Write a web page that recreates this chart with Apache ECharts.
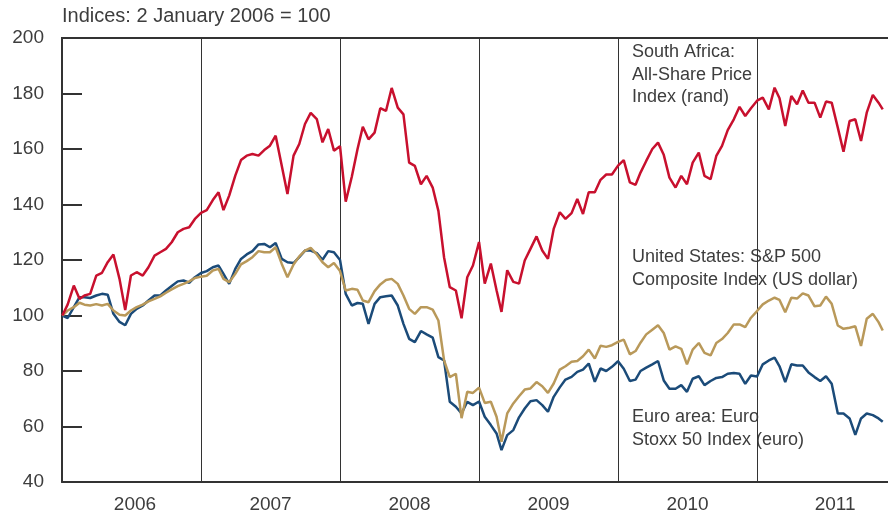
<!DOCTYPE html>
<html>
<head>
<meta charset="utf-8">
<script src="https://cdn.jsdelivr.net/npm/echarts@6/dist/echarts.min.js"></script>
<style>
  html, body { margin: 0; padding: 0; background: #fff; }
  #chart { width: 888px; height: 515px; }
</style>
</head>
<body>
<div id="chart"></div>
<script>
// sampling dates (1st and 16th of each month)
const dates = [
  '2006-01-02','2006-01-16','2006-02-01','2006-02-16','2006-03-01','2006-03-16','2006-04-01','2006-04-16','2006-05-01','2006-05-16','2006-06-01','2006-06-16',
  '2006-07-01','2006-07-16','2006-08-01','2006-08-16','2006-09-01','2006-09-16','2006-10-01','2006-10-16','2006-11-01','2006-11-16','2006-12-01','2006-12-16',
  '2007-01-01','2007-01-16','2007-02-01','2007-02-16','2007-03-01','2007-03-16','2007-04-01','2007-04-16','2007-05-01','2007-05-16','2007-06-01','2007-06-16',
  '2007-07-01','2007-07-16','2007-08-01','2007-08-16','2007-09-01','2007-09-16','2007-10-01','2007-10-16','2007-11-01','2007-11-16','2007-12-01','2007-12-16',
  '2008-01-01','2008-01-16','2008-02-01','2008-02-16','2008-03-01','2008-03-16','2008-04-01','2008-04-16','2008-05-01','2008-05-16','2008-06-01','2008-06-16',
  '2008-07-01','2008-07-16','2008-08-01','2008-08-16','2008-09-01','2008-09-16','2008-10-01','2008-10-16','2008-11-01','2008-11-16','2008-12-01','2008-12-16',
  '2009-01-01','2009-01-16','2009-02-01','2009-02-16','2009-03-01','2009-03-16','2009-04-01','2009-04-16','2009-05-01','2009-05-16','2009-06-01','2009-06-16',
  '2009-07-01','2009-07-16','2009-08-01','2009-08-16','2009-09-01','2009-09-16','2009-10-01','2009-10-16','2009-11-01','2009-11-16','2009-12-01','2009-12-16',
  '2010-01-01','2010-01-16','2010-02-01','2010-02-16','2010-03-01','2010-03-16','2010-04-01','2010-04-16','2010-05-01','2010-05-16','2010-06-01','2010-06-16',
  '2010-07-01','2010-07-16','2010-08-01','2010-08-16','2010-09-01','2010-09-16','2010-10-01','2010-10-16','2010-11-01','2010-11-16','2010-12-01','2010-12-16',
  '2011-01-01','2011-01-16','2011-02-01','2011-02-16','2011-03-01','2011-03-16','2011-04-01','2011-04-16','2011-05-01','2011-05-16','2011-06-01','2011-06-16',
  '2011-07-01','2011-07-16','2011-08-01','2011-08-16','2011-09-01','2011-09-16','2011-10-01','2011-10-16','2011-11-01','2011-11-16','2011-11-27'
];

// South Africa: All-Share Price Index (rand)
const southAfrica = [
  100, 104, 110.8, 106, 107.2, 107.8, 114.4, 115.4, 119.2, 122, 113.2, 102, 114.4, 115.6, 114.4, 117.4, 121.6, 122.8, 124, 126.4, 130, 131.2, 131.8, 134.8,
  137, 138, 141.6, 144.4, 138, 143.2, 150.4, 156, 157.6, 158.2, 157.6, 159.6, 161.2, 164.8, 154, 143.8, 157.6, 161.8, 169, 173, 170.8, 162.4, 167.2, 159.4,
  161, 141, 150, 159.9, 168, 163.5, 165.9, 174.7, 173.7, 182, 174.9, 172.5, 155.1, 153.9, 147.3, 150.3, 146.1, 137.7, 120.9, 110.2, 109, 99, 113.8, 118,
  126.5, 111.5, 118.7, 109.1, 101.3, 116.3, 112.1, 111.5, 119.8, 124, 128.5, 123.4, 120.4, 131.2, 137.2, 134.8, 136.9, 142, 136.6, 144.4, 144.4, 148.9, 150.8, 150.8,
  154, 156, 148, 147.1, 151.5, 155.7, 160, 162.3, 157.9, 149.7, 146.1, 150.3, 147.3, 155.1, 158.7, 150.3, 149.1, 157.5, 161.1, 166.8, 170.7, 175.2, 171.9, 174.7,
  177.4, 178.5, 174.3, 182.1, 178.3, 168.3, 179.1, 176.1, 181.1, 176.7, 176.7, 171.3, 177.1, 176.7, 167.7, 159, 170.1, 170.7, 162.9, 173.1, 179.5, 176.7, 174.3
];

// United States: S&P 500 Composite Index (US dollar)
const unitedStates = [
  100, 101.8, 103, 104.6, 103.9, 103.6, 104.1, 103.6, 104.2, 101.8, 100.3, 100, 101.8, 103, 103.9, 105.1, 106, 106.9, 108.2, 109.4, 110.6, 111.4, 112.3, 113.5,
  114, 114.3, 116.2, 116.8, 113.2, 112, 115, 118.4, 119.6, 121, 123.2, 122.8, 122.8, 124.6, 118.6, 113.8, 118.4, 121.3, 123.4, 124.4, 122, 119.2, 117.4, 118.9,
  116, 109, 109.6, 109.3, 105.4, 104.8, 108.8, 111.2, 112.8, 113.2, 111.4, 107.2, 102.4, 100.6, 103, 103, 102.1, 98.2, 83.8, 77.8, 79, 63, 72.5, 72.1,
  74, 68.5, 68.9, 63.5, 54.5, 64.7, 68.3, 70.9, 73.3, 73.7, 76, 74.5, 72.1, 75.5, 80.5, 81.7, 83.3, 83.6, 85.3, 87.7, 84.5, 89.1, 88.7, 89.3,
  90.5, 91.3, 86, 87.2, 90.2, 93.2, 94.9, 96.5, 93.7, 87.7, 88.9, 88, 82.4, 87.7, 90.1, 86.5, 85.6, 90.1, 91.5, 93.7, 96.8, 96.8, 95.8, 99.2,
  101.6, 104, 105.4, 106.4, 105.6, 101.2, 106.4, 106.1, 108, 107.2, 103.3, 103.6, 106.8, 104.2, 96.4, 95.2, 95.6, 96.1, 89, 98.8, 100.6, 97.6, 94.6
];

// Euro area: Euro Stoxx 50 Index (euro)
const euroArea = [
  100, 99.1, 103, 106.6, 106.6, 106.3, 107.2, 107.8, 107.5, 100.6, 97.7, 96.5, 100.6, 102.4, 103.6, 105.4, 107.2, 107.2, 109, 110.6, 112.3, 112.6, 111.8, 113.8,
  115.3, 116, 117.4, 118, 115, 111.4, 116.8, 120.4, 122, 123.2, 125.6, 125.8, 124.6, 126.1, 120.4, 119.2, 118.9, 121, 123.4, 123.4, 122.5, 120.1, 123.2, 122.8,
  120, 107.8, 103.6, 104.5, 104.2, 97, 104.2, 106.6, 106.9, 107.2, 103.6, 97, 91.6, 90.4, 94.4, 93.2, 92, 85, 83.8, 68.9, 67.1, 64.7, 68.9, 67.7,
  69, 63.5, 60.5, 57.5, 51.5, 56.9, 58.7, 63.3, 66.5, 69.1, 69.5, 67.7, 65.3, 70.7, 74.1, 76.9, 77.9, 79.7, 80.5, 82.7, 76.1, 80.9, 80, 81.5,
  83.5, 80.8, 76.4, 76.9, 80, 81.2, 82.4, 83.6, 76.6, 73.6, 73.6, 74.9, 72.5, 77.2, 78.1, 74.9, 76.4, 77.5, 77.8, 79, 79.3, 79, 75.4, 78.4,
  78, 82.4, 83.8, 84.8, 81.7, 76, 82.4, 82, 82, 79.5, 77.8, 76.4, 78.1, 75.4, 64.7, 64.7, 62.9, 57, 62.9, 64.7, 64.1, 62.9, 61.7
];

const years = ['2006', '2007', '2008', '2009', '2010', '2011'];

const FONT = '"Liberation Sans", Arial, sans-serif';
const TEXT = '#3d3d3d';
const AXIS = '#333333';

// date string -> fractional year
const toYear = s => {
  const d = new Date(s + 'T00:00:00Z');
  const y = d.getUTCFullYear();
  const a = Date.UTC(y, 0, 1);
  const b = Date.UTC(y + 1, 0, 1);
  return y + (d.getTime() - a) / (b - a);
};
const xs = dates.map(toYear);
const pairs = vals => vals.map((v, i) => [xs[i], v]);

const X_MIN = 2006;
const X_MAX = 2011.942;

const chart = echarts.init(document.getElementById('chart'), null, { renderer: 'canvas' });

const option = {
  animation: false,
  backgroundColor: '#fff',
  textStyle: { fontFamily: FONT },
  title: {
    text: 'Indices: 2 January 2006 = 100',
    left: 62,
    top: 6,
    padding: 0,
    textStyle: { fontFamily: FONT, fontSize: 20, fontWeight: 'normal', color: TEXT }
  },
  grid: { left: 62, right: 0, top: 38, bottom: 33 },
  xAxis: [
    {
      type: 'value',
      min: X_MIN,
      max: X_MAX,
      interval: 1,
      axisLine: { show: true, onZero: false, lineStyle: { color: AXIS, width: 2 } },
      axisTick: { show: false },
      axisLabel: { show: false },
      splitLine: { show: true, lineStyle: { color: AXIS, width: 1 } }
    },
    {
      // year labels, centred in each year
      type: 'value',
      position: 'bottom',
      min: X_MIN - 2006.5,
      max: X_MAX - 2006.5,
      splitNumber: 6,
      axisLine: { show: false, onZero: false },
      axisTick: { show: false },
      splitLine: { show: false },
      axisLabel: {
        margin: 13,
        fontSize: 19,
        color: TEXT,
        fontFamily: FONT,
        showMinLabel: false,
        showMaxLabel: false,
        formatter: v => {
          if (!Number.isInteger(v) || !years[v]) return '';
          if (v === 0) return '{a|' + years[v] + '}';
          if (v === years.length - 1) return '{b|' + years[v] + '}';
          return years[v];
        },
        rich: {
          a: { fontSize: 19, color: TEXT, fontFamily: FONT, padding: [0, 0, 0, 7] },
          b: { fontSize: 19, color: TEXT, fontFamily: FONT, padding: [0, 0, 0, 17] }
        }
      }
    }
  ],
  yAxis: {
    type: 'value',
    min: 40,
    max: 200,
    interval: 20,
    axisLine: { show: true, onZero: false, lineStyle: { color: AXIS, width: 2 } },
    axisTick: { show: true, inside: true, length: 20, lineStyle: { color: AXIS, width: 2 } },
    axisLabel: { margin: 18, fontSize: 19, color: TEXT, fontFamily: FONT },
    splitLine: { show: false }
  },
  graphic: [
    {
      type: 'text', left: 632, top: 41, silent: true,
      style: { text: 'South Africa:\nAll-Share Price\nIndex (rand)', font: '18px ' + FONT, fill: TEXT, lineHeight: 22.5 }
    },
    {
      type: 'text', left: 632, top: 246, silent: true,
      style: { text: 'United States: S&P 500\nComposite Index (US dollar)', font: '18px ' + FONT, fill: TEXT, lineHeight: 22.5 }
    },
    {
      type: 'text', left: 632, top: 406, silent: true,
      style: { text: 'Euro area: Euro\nStoxx 50 Index (euro)', font: '18px ' + FONT, fill: TEXT, lineHeight: 22.5 }
    },
    {
      // top border of the plot frame
      type: 'line', silent: true,
      shape: { x1: 61, y1: 38, x2: 888, y2: 38 },
      style: { stroke: AXIS, lineWidth: 2 }
    }
  ],
  series: [
    {
      name: 'Euro area: Euro Stoxx 50 Index (euro)',
      type: 'line',
      data: pairs(euroArea),
      showSymbol: false,
      lineStyle: { color: '#1b4b79', width: 2.5 },
      itemStyle: { color: '#1b4b79' },
      z: 3
    },
    {
      name: 'United States: S&P 500 Composite Index (US dollar)',
      type: 'line',
      data: pairs(unitedStates),
      showSymbol: false,
      lineStyle: { color: '#b9995a', width: 2.5 },
      itemStyle: { color: '#b9995a' },
      z: 4
    },
    {
      name: 'South Africa: All-Share Price Index (rand)',
      type: 'line',
      data: pairs(southAfrica),
      showSymbol: false,
      lineStyle: { color: '#c8102e', width: 2.5 },
      itemStyle: { color: '#c8102e' },
      z: 5
    }
  ]
};

chart.setOption(option);
</script>
</body>
</html>
